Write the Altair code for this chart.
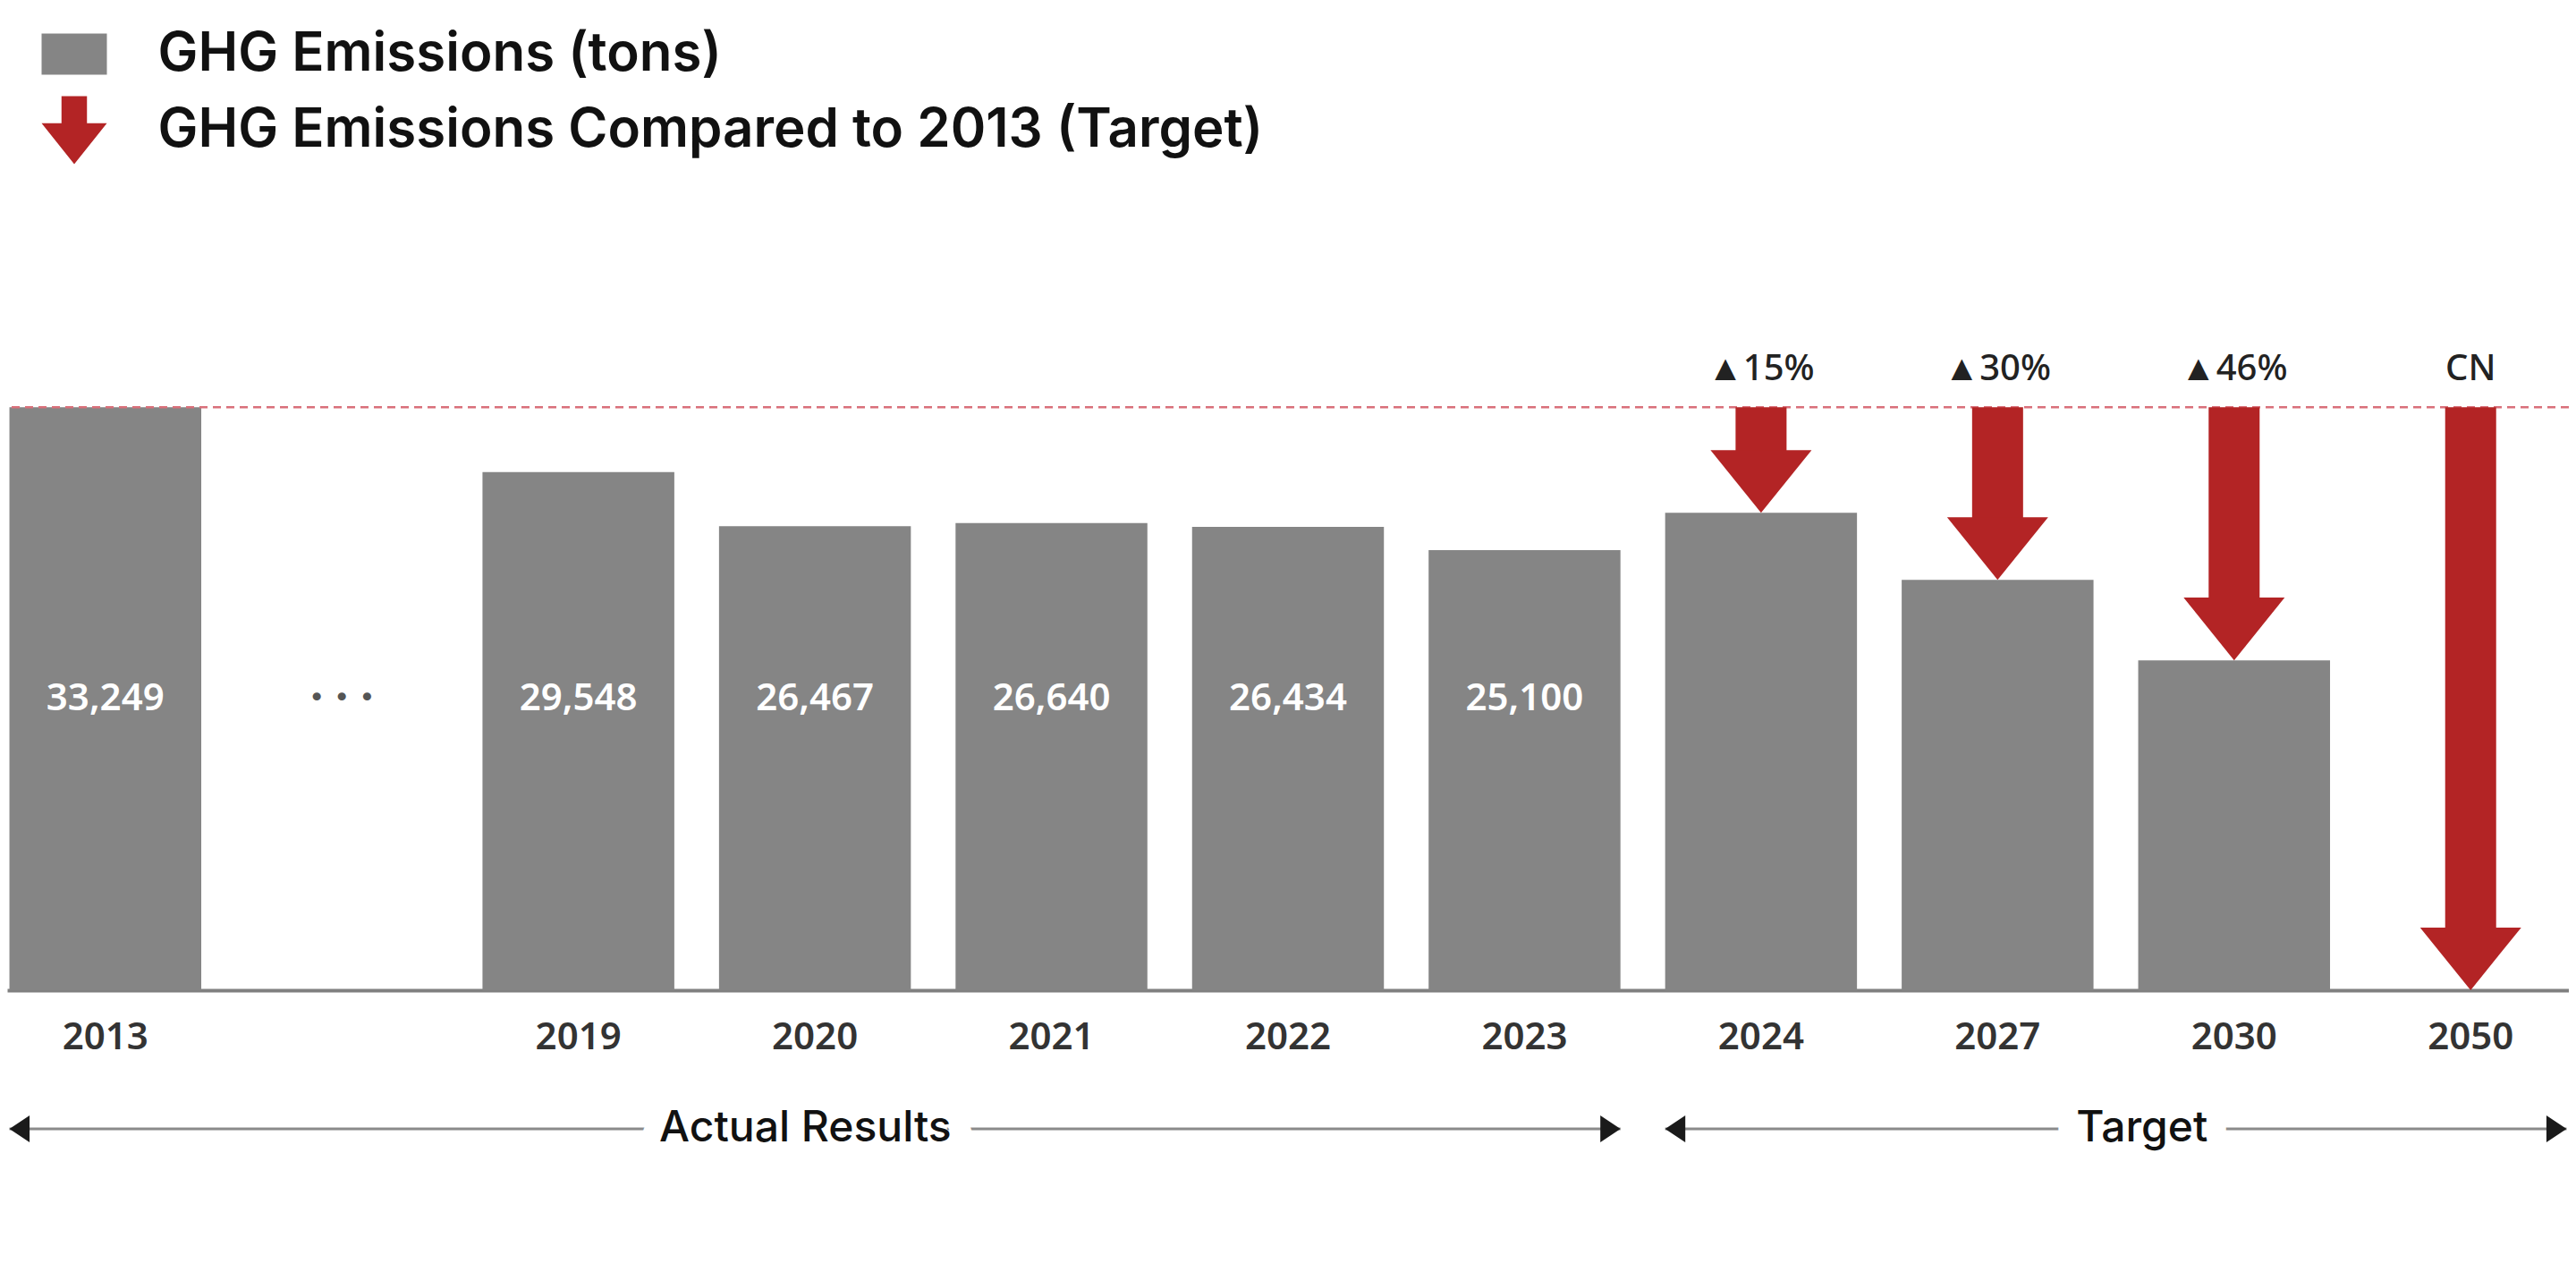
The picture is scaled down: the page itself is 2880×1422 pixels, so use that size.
import altair as alt
import pandas as pd

# ---------------- data ----------------
categories = ["2013", "…", "2019", "2020", "2021", "2022", "2023", "2024", "2027", "2030", "2050"]
actual_years = ["2013", "2019", "2020", "2021", "2022", "2023"]
actual_values = [33249, 29548, 26467, 26640, 26434, 25100]
target_years = ["2024", "2027", "2030", "2050"]
target_values = [27230, 23400, 18820, 0]
target_labels = ["▲15%", "▲30%", "▲46%", "CN"]
series_names = ["GHG Emissions (tons)", "GHG Emissions Compared to 2013 (Target)"]
period_labels = ["Actual Results", "Target"]
period_from = ["2013", "2024"]
period_to = ["2023", "2050"]

# ---------------- style ----------------
GRAY = "#858585"
RED = "#b32425"
W, H = 2864, 784
YMAX = 40000
FONT = "Noto Sans"
LFONT = "Inter"

base_value = actual_values[0]

bars_df = pd.DataFrame({
    "year": actual_years + target_years[:3],
    "value": actual_values + target_values[:3],
})
vals_df = pd.DataFrame({
    "year": actual_years,
    "label": [f"{v:,}" for v in actual_values],
    "ly": [base_value / 2] * len(actual_years),
})
dots_df = pd.DataFrame({"year": ["…"], "ly": [base_value / 2]})
arrow_df = pd.DataFrame({
    "year": target_years,
    "base": [base_value] * len(target_years),
    "target": target_values,
    "label": target_labels,
})
dash_df = pd.DataFrame({"base": [base_value]})
period_df = pd.DataFrame({"label": period_labels, "from": period_from, "to": period_to})
legend_df = pd.DataFrame({"series": series_names})

xscale = alt.Scale(domain=categories, paddingInner=0.189, paddingOuter=0.0096)
yscale = alt.Scale(domain=[0, YMAX], nice=False, zero=True)
xaxis = alt.Axis(
    title=None, ticks=False, grid=False, domain=True,
    domainColor="#808080", domainWidth=4,
    labelFont=FONT, labelFontSize=42, labelFontWeight=600, labelColor="#333333",
    labelBaseline="middle", labelPadding=52, labelAngle=0,
    labelExpr="datum.value == '…' ? '' : datum.value",
)


def X(field, **kw):
    return alt.X(field, type="nominal", scale=xscale, axis=xaxis, **kw)


def Y(field):
    return alt.Y(field, type="quantitative", scale=yscale, axis=None)


dash = alt.Chart(dash_df).mark_rule(
    color="#d9707a", strokeWidth=2.5, strokeDash=[9, 6]
).encode(y=Y("base"))

bars = alt.Chart(bars_df).mark_bar(color=GRAY).encode(x=X("year"), y=Y("value"))

vals = alt.Chart(vals_df).mark_text(
    color="white", font=FONT, fontSize=42, fontWeight=600, baseline="middle"
).encode(x=X("year"), y=Y("ly"), text="label:N")

dots = alt.Chart(dots_df).mark_text(
    text="• • •", color="#555555", font="DejaVu Sans", fontSize=31, baseline="middle"
).encode(x=X("year"), y=Y("ly"))

shaft = alt.Chart(arrow_df).mark_bar(color=RED, width=57, y2Offset=-68).encode(
    x=X("year"), y=Y("base"), y2="target:Q"
)

head = alt.Chart(arrow_df).mark_point(
    shape="M-1,-1.24L1,-1.24L0,0Z", size=12769, filled=True,
    fill=RED, opacity=1, strokeWidth=0
).encode(x=X("year"), y=Y("target"))

toplab = alt.Chart(arrow_df).mark_text(
    dy=-42, font=FONT, fontSize=40, fontWeight=500, color="#222222", baseline="middle"
).encode(x=X("year"), y=Y("base"), text="label:N")

rect_path = "M-1,-0.63L1,-0.63L1,0.63L-1,0.63Z"
arrow_path = "M-0.39,-1.04L0.39,-1.04L0.39,-0.21L1,-0.21L0,1.04L-1,-0.21L-0.39,-0.21Z"
leg = alt.Legend(
    title=None, orient="none", legendX=38.5, legendY=-299, direction="vertical",
    symbolSize=5329, symbolStrokeWidth=0, labelFont=LFONT, labelFontSize=60,
    labelFontWeight=600, labelColor="#111111", labelOffset=57, rowPadding=16,
    labelLimit=3000, padding=0,
)
legend_layer = alt.Chart(legend_df).mark_point(filled=True, opacity=1).encode(
    color=alt.Color("series:N", scale=alt.Scale(domain=series_names, range=[GRAY, RED]), legend=leg),
    shape=alt.Shape("series:N", scale=alt.Scale(domain=series_names, range=[rect_path, arrow_path]), legend=leg),
).transform_filter("false")

PY = H + 155
prule = alt.Chart(period_df).mark_rule(color="#8a8a8a", strokeWidth=3).encode(
    x=X("from", bandPosition=0),
    x2=alt.X2("to:N", bandPosition=1),
    y=alt.value(PY),
)
pleft = alt.Chart(period_df).mark_point(
    shape="M0,0L1.5,-1L1.5,1Z", size=900, filled=True, fill="#1a1a1a", opacity=1, strokeWidth=0
).encode(x=X("from", bandPosition=0), y=alt.value(PY))
pright = alt.Chart(period_df).mark_point(
    shape="M0,0L-1.5,-1L-1.5,1Z", size=900, filled=True, fill="#1a1a1a", opacity=1, strokeWidth=0
).encode(x=X("to", bandPosition=1), y=alt.value(PY))

anchors = {"Actual Results": ("2020", 0.45), "Target": ("2030", 0.02)}
ptexts = []
for lab, (cat, bp) in anchors.items():
    d = pd.DataFrame({"label": [lab], "at": [cat]})
    common = dict(font=LFONT, fontSize=48, fontWeight=500, baseline="middle", align="center")
    mask = alt.Chart(d).mark_text(
        color="white", stroke="white", strokeWidth=44, **common
    ).encode(x=X("at", bandPosition=bp), y=alt.value(PY), text="label:N")
    txt = alt.Chart(d).mark_text(color="#111111", **common).encode(
        x=X("at", bandPosition=bp), y=alt.value(PY), text="label:N"
    )
    ptexts += [mask, txt]

chart = alt.layer(
    bars, dash, vals, dots, shaft, head, toplab, legend_layer, prule, *ptexts, pleft, pright
).properties(
    width=W, height=H,
    autosize=alt.AutoSizeParams(type="none"),
    padding={"left": 0, "top": 315, "right": 0, "bottom": 180},
    background="white",
).configure_view(stroke=None)

chart.save("out.html", embed_options={"renderer": "svg", "actions": False})
